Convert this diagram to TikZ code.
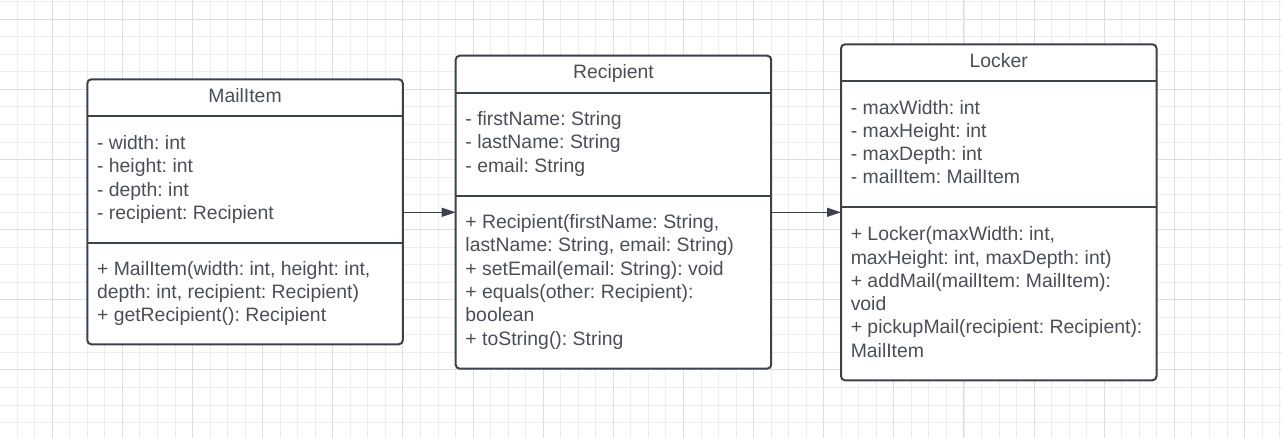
\documentclass[tikz,border=0pt]{standalone}
\usepackage{fontspec}
\setmainfont{Liberation Sans}
\usetikzlibrary{positioning,arrows.meta}
\frenchspacing

\definecolor{linecol}{HTML}{3C424B}
\definecolor{textcol}{HTML}{4A4F57}
\definecolor{minorcol}{HTML}{EDEDED}
\definecolor{majorcol}{HTML}{DEDEDE}

\tikzset{
  umlfont/.style={font=\fontsize{19.4}{23.3}\selectfont, text=textcol},
  classbox/.style={draw=linecol, fill=white, line width=2pt, rounded corners=4pt,
    minimum width=315.5pt, inner sep=0pt, outer sep=0pt, anchor=north west},
  classtitle/.style={umlfont, minimum width=315.5pt, minimum height=37pt,
    inner sep=0pt, outer sep=0pt, execute at begin node=\strut},
  classpart/.style={umlfont, text width=296pt, inner xsep=9.75pt, inner ysep=0pt,
    outer sep=0pt, align=flush left, execute at begin node=\strut, execute at end node=\strut},
  sepline/.style={draw=linecol, line width=2pt},
  minorline/.style={draw=minorcol, line width=1pt},
  majorline/.style={draw=majorcol, line width=1pt},
  assoc/.style={draw=linecol, line width=1.3pt, -{Triangle[length=14pt,width=9pt]}}
}

\begin{document}
\begin{tikzpicture}[x=1pt, y=-1pt]

\useasboundingbox (0,0) rectangle (1282,438);

\begin{scope}
\clip (0,0) rectangle (1282,438);
\foreach \k in {-3,...,71}
{
    \draw[minorline] ({floor(52.3+17.533*\k)+0.5},0) -- ++(0,438);
}
\foreach \k in {-1,...,24}
{
    \draw[minorline] (0,{floor(19.3+17.533*\k)+0.5}) -- ++(1282,0);
}
\foreach \k in {0,...,17}
{
    \draw[majorline] ({floor(52.3+70.13*\k)+0.5},0) -- ++(0,438);
}
\foreach \k in {0,...,5}
{
    \draw[majorline] (0,{floor(19.3+70.13*\k)+0.5}) -- ++(1282,0);
}
\end{scope}

\node[classbox, minimum height=265pt] (mailItem) at (87.3,79.3) {};
\node[classtitle, below=0pt of mailItem.north] (mailTitle) {MailItem};
\node[classpart, minimum height=127pt, below=0pt of mailTitle] (mailAttr)
  {- width: int\\- height: int\\- depth: int\\- recipient: Recipient};
\node[classpart, minimum height=101pt, below=0pt of mailAttr] (mailOps)
  {+ MailItem(width: int, height: int,\\depth: int, recipient: Recipient)\\+ getRecipient(): Recipient};

\node[classbox, minimum height=313pt] (recipient) at (455.7,55.7) {};
\node[classtitle, below=0pt of recipient.north] (recipientTitle) {Recipient};
\node[classpart, minimum height=103pt, below=0pt of recipientTitle] (recipientAttr)
  {- firstName: String\\- lastName: String\\- email: String};
\node[classpart, minimum height=173pt, below=0pt of recipientAttr] (recipientOps)
  {+ Recipient(firstName: String,\\lastName: String, email: String)\\+ setEmail(email: String): void\\+ equals(other: Recipient):\\boolean\\+ toString(): String};

\node[classbox, minimum height=336pt] (locker) at (841,44.3) {};
\node[classtitle, below=0pt of locker.north] (lockerTitle) {Locker};
\node[classpart, minimum height=126pt, below=0pt of lockerTitle] (lockerAttr)
  {- maxWidth: int\\- maxHeight: int\\- maxDepth: int\\- mailItem: MailItem};
\node[classpart, minimum height=174pt, below=0pt of lockerAttr] (lockerOps)
  {+ Locker(maxWidth: int,\\maxHeight: int, maxDepth: int)\\+ addMail(mailItem: MailItem):\\void\\+ pickupMail(recipient: Recipient):\\MailItem};

\foreach \v in {mailAttr,mailOps,recipientAttr,recipientOps,lockerAttr,lockerOps}
{
    \draw[sepline] (\v.north west) -- (\v.north east);
}

\coordinate (linkY) at (0,212.3);

\draw[assoc] (mailItem.east |- linkY) -- (recipient.west |- linkY);
\draw[assoc] (recipient.east |- linkY) -- (locker.west |- linkY);

\end{tikzpicture}
\end{document}
